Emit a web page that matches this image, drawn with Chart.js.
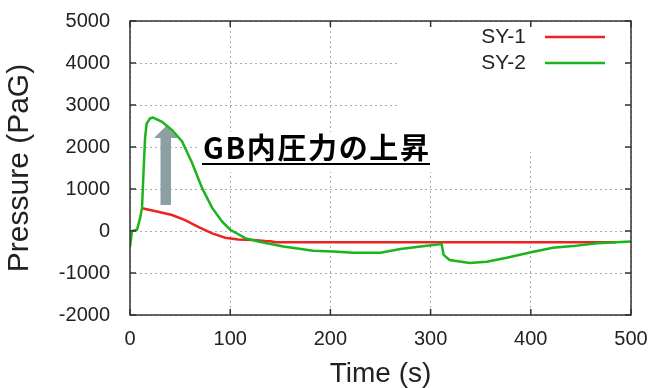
<!DOCTYPE html>
<html>
<head>
<meta charset="utf-8">
<script src="https://cdn.jsdelivr.net/npm/chart.js@4"></script>
<style>
  html, body { margin: 0; padding: 0; background: #fff; }
  canvas { display: block; }
</style>
</head>
<body>
<canvas id="chart" width="652" height="388"></canvas>
<script>
// SY-1 (red) pressure trace
const sy1Time = [12, 28, 42, 55, 68, 82, 95, 108, 123, 135, 140, 146, 200, 300, 400, 485];
const sy1Pressure = [540, 460, 380, 260, 100, -55, -160, -200, -215, -240, -245, -270, -270, -270, -270, -270];

// SY-2 (green) pressure trace
const sy2Time = [0, 2, 7, 10, 12, 13.5, 15, 16.5, 20, 23, 32, 42, 52, 62, 72, 82, 92, 100, 115, 128, 153, 183, 203, 223, 250, 270, 290, 311, 313, 319, 339, 356, 376, 399, 422, 442, 466, 500];
const sy2Pressure = [-380, 0, 30, 300, 550, 1400, 2200, 2550, 2680, 2700, 2600, 2400, 2130, 1620, 1020, 550, 220, 30, -170, -250, -370, -470, -490, -515, -515, -430, -370, -310, -570, -690, -760, -730, -635, -510, -400, -360, -290, -250];

const seriesLabels = ["SY-1", "SY-2"];
const seriesColors = ["#ee2222", "#1cb41c"];
const xTitle = "Time (s)";
const yTitle = "Pressure (PaG)";
const noteText = "GB内圧力の上昇";

const FONT = "'Liberation Sans', Arial, sans-serif";

function toPoints(ts, vs) {
  return ts.map((t, i) => ({ x: t, y: vs[i] }));
}

// white patches behind legend + note, arrow
const backdropPlugin = {
  id: "backdrop",
  beforeDatasetsDraw(chart) {
    const ctx = chart.ctx;
    ctx.save();
    ctx.fillStyle = "#fff";
    ctx.fillRect(398, 22, 224, 130);
    ctx.fillRect(198, 132, 236, 40);

    // arrow
    ctx.fillStyle = "#8ca0a4";
    ctx.beginPath();
    ctx.moveTo(166, 126);
    ctx.lineTo(178, 138);
    ctx.lineTo(171, 138);
    ctx.lineTo(171, 205);
    ctx.lineTo(160.5, 205);
    ctx.lineTo(160.5, 138);
    ctx.lineTo(154, 138);
    ctx.closePath();
    ctx.fill();
    ctx.restore();
  }
};

// frame, inward ticks, legend, note
const framePlugin = {
  id: "frame",
  afterDatasetsDraw(chart) {
    const ctx = chart.ctx;
    const { left, right, top, bottom } = chart.chartArea;
    const xs = chart.scales.x, ys = chart.scales.y;
    ctx.save();
    ctx.strokeStyle = "#333";
    ctx.lineWidth = 1.5;
    ctx.strokeRect(left, top, right - left, bottom - top);

    ctx.beginPath();
    xs.ticks.forEach(t => {
      const px = xs.getPixelForValue(t.value);
      ctx.moveTo(px, bottom); ctx.lineTo(px, bottom - 6);
      ctx.moveTo(px, top); ctx.lineTo(px, top + 6);
    });
    ys.ticks.forEach(t => {
      const py = ys.getPixelForValue(t.value);
      ctx.moveTo(left, py); ctx.lineTo(left + 6, py);
      ctx.moveTo(right, py); ctx.lineTo(right - 6, py);
    });
    ctx.stroke();

    // legend
    ctx.font = "21px " + FONT;
    ctx.textAlign = "right";
    ctx.textBaseline = "middle";
    ctx.fillStyle = "#222";
    chart.data.datasets.forEach((ds, i) => {
      const y = 37 + i * 26;
      ctx.fillText(ds.label, 526, y);
      ctx.strokeStyle = ds.borderColor;
      ctx.lineWidth = 2.5;
      ctx.beginPath();
      ctx.moveTo(545, y); ctx.lineTo(605, y);
      ctx.stroke();
    });

    // note
    ctx.font = "bold 29px 'Noto Sans CJK JP', sans-serif";
    ctx.textAlign = "left";
    ctx.textBaseline = "alphabetic";
    ctx.fillStyle = "#000";
    const chars = Array.from(noteText);
    const w = ctx.measureText(noteText).width;
    const gap = (226 - w) / (chars.length - 1);
    let cx = 203;
    chars.forEach(c => {
      ctx.fillText(c, cx, 159);
      cx += ctx.measureText(c).width + gap;
    });
    ctx.fillRect(202, 163, 228, 2);
    ctx.restore();
  }
};

new Chart(document.getElementById("chart"), {
  type: "line",
  data: {
    datasets: [
      {
        label: seriesLabels[0],
        data: toPoints(sy1Time, sy1Pressure),
        borderColor: seriesColors[0],
        borderWidth: 2.5,
        pointRadius: 0,
        tension: 0,
        order: 1
      },
      {
        label: seriesLabels[1],
        data: toPoints(sy2Time, sy2Pressure),
        borderColor: seriesColors[1],
        borderWidth: 2.5,
        pointRadius: 0,
        tension: 0,
        order: 0
      }
    ]
  },
  options: {
    responsive: false,
    animation: false,
    devicePixelRatio: 1,
    layout: { padding: { top: 21, right: 21, left: 0, bottom: 0 } },
    plugins: { legend: { display: false }, tooltip: { enabled: false } },
    scales: {
      x: {
        type: "linear",
        min: 0,
        max: 500,
        afterFit: s => { s.height = 73; s.paddingLeft = 0; s.paddingRight = 0; },
        ticks: { stepSize: 100, padding: 12, color: "#222", font: { family: FONT, size: 20 }, callback: v => String(v) },
        grid: { color: "#aaa", drawTicks: false },
        border: { display: false, dash: [2, 3] },
        title: { display: true, text: xTitle, color: "#222", padding: 0, font: { family: FONT, size: 28, lineHeight: 1 } }
      },
      y: {
        min: -2000,
        max: 5000,
        afterFit: s => { s.width = 130; s.paddingTop = 0; s.paddingBottom = 0; },
        ticks: { stepSize: 1000, padding: 20, color: "#222", font: { family: FONT, size: 20 }, callback: v => String(v) },
        grid: { color: "#aaa", drawTicks: false },
        border: { display: false, dash: [2, 3] },
        title: { display: true, text: yTitle, color: "#222", padding: 5, font: { family: FONT, size: 30, lineHeight: 1 } }
      }
    }
  },
  plugins: [backdropPlugin, framePlugin]
});
</script>
</body>
</html>
